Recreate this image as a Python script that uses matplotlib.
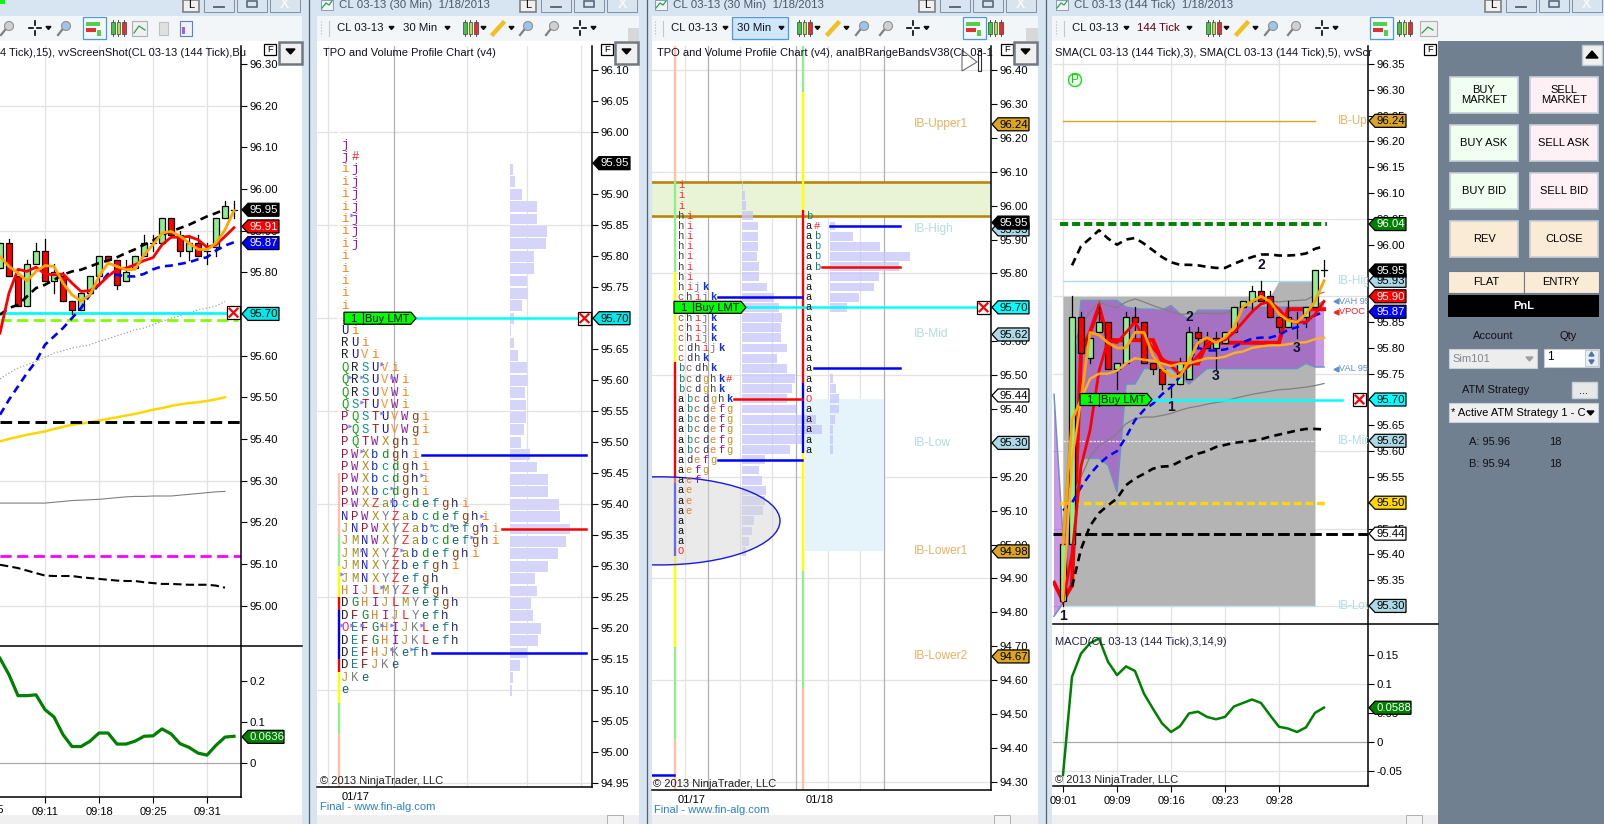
import matplotlib
matplotlib.use('Agg')
import matplotlib.pyplot as plt
from matplotlib.patches import Rectangle, Polygon, Ellipse, Circle

W, H = 1604, 824
plt.rcParams['font.family'] = ['Liberation Sans', 'DejaVu Sans']

# ---- left chart (CL 03-13 144 tick, cut off at the window edge)
p1_open = [95.81, 95.87, 95.79, 95.72, 95.82, 95.85, 95.78, 95.79, 95.73, 95.71, 95.75, 95.79, 95.84, 95.83, 95.78, 95.81, 95.84, 95.87, 95.87, 95.93, 95.89, 95.85, 95.87, 95.85, 95.86, 95.93, 95.95]
p1_close = [95.87, 95.79, 95.72, 95.82, 95.85, 95.78, 95.80, 95.73, 95.71, 95.75, 95.79, 95.84, 95.83, 95.77, 95.80, 95.84, 95.87, 95.87, 95.93, 95.89, 95.85, 95.87, 95.84, 95.85, 95.93, 95.96, 95.95]
p1_high = [95.87, 95.88, 95.79, 95.83, 95.87, 95.88, 95.82, 95.80, 95.73, 95.75, 95.79, 95.84, 95.84, 95.83, 95.83, 95.84, 95.89, 95.89, 95.93, 95.93, 95.90, 95.89, 95.89, 95.87, 95.93, 95.97, 95.97]
p1_low = [95.81, 95.79, 95.72, 95.72, 95.82, 95.78, 95.75, 95.73, 95.70, 95.71, 95.75, 95.77, 95.83, 95.76, 95.78, 95.81, 95.84, 95.85, 95.87, 95.89, 95.84, 95.83, 95.84, 95.82, 95.84, 95.93, 95.93]
p1_orange = [95.838, 95.814, 95.798, 95.779, 95.802, 95.816, 95.814, 95.774, 95.746, 95.731, 95.746, 95.79, 95.822, 95.814, 95.806, 95.807, 95.842, 95.866, 95.894, 95.898, 95.887, 95.87, 95.855, 95.854, 95.87, 95.902, 95.948]
p1_red = [95.654, 95.75, 95.807, 95.802, 95.812, 95.796, 95.794, 95.796, 95.774, 95.754, 95.756, 95.77, 95.79, 95.807, 95.81, 95.818, 95.828, 95.835, 95.866, 95.884, 95.884, 95.886, 95.878, 95.86, 95.866, 95.886, 95.907]
p1_blue = [95.458, 95.494, 95.526, 95.558, 95.586, 95.626, 95.646, 95.666, 95.69, 95.714, 95.746, 95.77, 95.796, 95.794, 95.79, 95.79, 95.796, 95.807, 95.814, 95.816, 95.82, 95.824, 95.831, 95.836, 95.852, 95.864, 95.872]
p1_upper = [95.698, 95.714, 95.722, 95.742, 95.762, 95.77, 95.782, 95.794, 95.802, 95.806, 95.814, 95.822, 95.828, 95.836, 95.846, 95.855, 95.866, 95.876, 95.89, 95.898, 95.906, 95.914, 95.924, 95.934, 95.942, 95.951]
p1_dotted = [95.544, 95.558, 95.57, 95.578, 95.586, 95.596, 95.606, 95.612, 95.618, 95.622, 95.626, 95.634, 95.64, 95.648, 95.654, 95.662, 95.666, 95.674, 95.682, 95.69, 95.695, 95.702, 95.71, 95.714, 95.719, 95.73]
p1_gold = [95.394, 95.40, 95.405, 95.41, 95.414, 95.418, 95.424, 95.429, 95.434, 95.437, 95.44, 95.444, 95.448, 95.452, 95.456, 95.46, 95.465, 95.47, 95.474, 95.479, 95.483, 95.486, 95.488, 95.491, 95.495, 95.50]
p1_gray = [95.246, 95.246, 95.246, 95.246, 95.246, 95.246, 95.248, 95.25, 95.252, 95.253, 95.254, 95.255, 95.257, 95.259, 95.261, 95.262, 95.262, 95.263, 95.263, 95.263, 95.265, 95.267, 95.269, 95.271, 95.273, 95.274]
p1_lower = [95.098, 95.094, 95.09, 95.084, 95.078, 95.072, 95.071, 95.071, 95.071, 95.068, 95.066, 95.064, 95.062, 95.06, 95.059, 95.059, 95.056, 95.054, 95.052, 95.052, 95.051, 95.05, 95.05, 95.05, 95.048, 95.043]
p1_macd = [.255, .215, .164, .164, .166, .13, .112, .069, .04, .04, .053, .073, .073, .046, .046, .053, .065, .066, .083, .071, .047, .038, .024, .019, .043, .063, .065]
p1_xticks = [5, 11, 17, 23]
p1_xlabels = ['09:11', '09:18', '09:25', '09:31']

# ---- TPO / volume profile, 01/17 session
p2_top_row = 95.98
p2_rows = ['j', 'j#', 'ij', 'ij', 'ij', 'ij', 'ij', 'ij', 'ij', 'i', 'i', 'i', 'i', 'i', 'i', 'Ui', 'RUi', 'RUVi',
           'QRSUVi', 'QRSUVWi', 'QRSUVWi', 'QSTUVWi', 'PQSTUVWgi', 'PQSTUVWgi', 'PQTWXghi', 'PWXbdghi',
           'PWXbcdghi', 'PWXbcdghi', 'PWXbcdghi', 'PWXZabcdefghi', 'NPWXYZabcdefghi', 'JNPWXYZabcdefghi',
           'JMNWXYZabcdefghi', 'JMNXYZabdefghi', 'JMNXYZbefghi', 'JMNXYZefgh', 'HIJLMYZefgh', 'DGHIJLMYefgh',
           'DFGHIJLYefh', 'OEFGHIJKLefh', 'DEFGHIJKLefh', 'DEFHJKefh', 'DEFJKe', 'JKe', 'e']
p2_vol_top = 95.94
p2_vol = [3, 5, 12, 27, 27, 37, 36, 24, 24, 17, 18, 12, 4, 1, 4, 8, 17, 18, 15, 16, 16, 14, 11,
          20, 27, 38, 38, 49, 50, 60, 56, 48, 38, 25, 27, 21, 23, 31, 28, 17, 10, 3, 2]
p2_strip_edges = [96.14, 95.45, 95.35, 95.30, 95.25, 95.23, 95.15, 95.13, 95.08, 95.03, 94.94]
p2_strip_colors = ['white', '#ffc0a8', '#90ee90', '#ffff00', '#ff0000', '#0000ff', '#ff0000', '#ffff00', '#90ee90', '#ffc0a8']
p2_flag_x = [352, 382, 350, 362, 392, 362, 382, 350, 362, 422, 392, 392, 482, 482, 432, 452, 472, 362, 402, 342, 382, 342, 352, 362, 382, 392, 422, 392, 412]
p2_flag_y = [95.866, 95.626, 95.605, 95.605, 95.605, 95.565, 95.547, 95.526, 95.486, 95.447, 95.426, 95.405, 95.381, 95.366, 95.366, 95.366, 95.347, 95.326, 95.326, 95.287, 95.266, 95.206, 95.206, 95.206, 95.206, 95.206, 95.206, 95.166, 95.166]

# ---- TPO / volume profile, 01/17 and 01/18 sessions
p3_top_row = 96.06
p3_rows = ['i', 'i', 'i', 'hi', 'hi', 'hi', 'hi', 'hi', 'hi', 'hi', 'hijk', 'chijk', 'chijk', 'chijk', 'chijk', 'chijk',
           'cdhijk', 'cdhk', 'bcdhk', 'bcdghk#', 'bcdghk', 'abcdghk', 'abcdefg', 'abcdefg', 'abcdefg', 'abcdefg', 'abcdefg',
           'adefg', 'aefg', 'aef', 'ae', 'ae', 'ae', 'a', 'a', 'a', 'O']
p3_vol = [1, 3, 4, 11, 16, 16, 16, 15, 17, 17, 25, 32, 37, 40, 39, 39, 45, 35, 45, 53, 50, 45, 54, 74, 80, 60, 48, 23, 17, 20, 24, 23, 21, 12, 10, 7, 4]
p3b_top_row = 95.97
p3b_rows = ['b', 'a#', 'ab', 'ab', 'ab', 'ab', 'a', 'a', 'a', 'a', 'a', 'a', 'a', 'a', 'a', 'a', 'a', 'a', 'O', 'a', 'a', 'a', 'a', 'a']
p3b_vol_prices = [95.94, 95.91, 95.88, 95.85, 95.82, 95.79, 95.76, 95.73, 95.70, 95.49, 95.46, 95.43, 95.40, 95.37, 95.34, 95.31, 95.28]
p3b_vol = [5, 23, 50, 80, 69, 49, 44, 29, 17, 3, 6, 9, 9, 5, 3, 3, 3]
p3_strip1_edges = [96.48, 96.075, 95.804, 95.539, 95.182, 94.966, 94.698, 94.427, 94.27]
p3_strip1_colors = ['#ffc0a8', '#90ee90', '#ffff00', '#ff0000', '#0000ff', '#ffff00', '#90ee90', '#ffc0a8']
p3_strip2_edges = [96.48, 96.335, 95.987, 95.477, 95.27, 94.922, 94.577, 94.27]
p3_strip2_colors = ['#90ee90', '#ffff00', '#ff0000', '#0000ff', '#ffff00', '#90ee90', '#ffc0a8']
ib_names = ['IB-Upper1', 'IB-High', 'IB-Mid', 'IB-Low', 'IB-Lower1', 'IB-Lower2']
ib_prices = [96.24, 95.93, 95.62, 95.30, 94.98, 94.67]

# ---- right chart, 144 tick
p4_open = [95.31, 95.42, 95.86, 95.78, 95.83, 95.85, 95.76, 95.77, 95.86, 95.85, 95.77, 95.76, 95.73, 95.73, 95.74, 95.83, 95.82, 95.80, 95.81, 95.83, 95.88, 95.89, 95.91, 95.90, 95.86, 95.84, 95.85, 95.86, 95.88, 95.95]
p4_close = [95.42, 95.86, 95.79, 95.82, 95.85, 95.76, 95.77, 95.86, 95.85, 95.77, 95.76, 95.73, 95.73, 95.77, 95.83, 95.82, 95.80, 95.82, 95.83, 95.88, 95.89, 95.91, 95.89, 95.86, 95.84, 95.86, 95.85, 95.88, 95.95, 95.95]
p4_high = [95.42, 95.90, 95.87, 95.82, 95.88, 95.85, 95.77, 95.87, 95.88, 95.85, 95.77, 95.76, 95.73, 95.78, 95.84, 95.84, 95.83, 95.83, 95.83, 95.88, 95.89, 95.92, 95.93, 95.91, 95.86, 95.89, 95.87, 95.88, 95.95, 95.97]
p4_low = [95.30, 95.42, 95.79, 95.77, 95.83, 95.76, 95.72, 95.77, 95.82, 95.77, 95.75, 95.72, 95.705, 95.73, 95.74, 95.80, 95.80, 95.76, 95.81, 95.83, 95.88, 95.87, 95.89, 95.86, 95.83, 95.84, 95.82, 95.84, 95.88, 95.94]
p4_orange = [95.42, 95.66, 95.70, 95.83, 95.825, 95.81, 95.80, 95.80, 95.83, 95.83, 95.785, 95.76, 95.745, 95.745, 95.775, 95.81, 95.82, 95.81, 95.82, 95.84, 95.88, 95.89, 95.90, 95.89, 95.866, 95.853, 95.85, 95.866, 95.89, 95.93]
p4_gold = [95.31, 95.58, 95.70, 95.74, 95.75, 95.75, 95.756, 95.77, 95.78, 95.777, 95.775, 95.77, 95.765, 95.77, 95.77, 95.775, 95.78, 95.78, 95.783, 95.79, 95.793, 95.80, 95.803, 95.805, 95.805, 95.807, 95.81, 95.811, 95.817, 95.82]
p4_red = [95.31, 95.40, 95.57, 95.64, 95.755, 95.815, 95.81, 95.83, 95.85, 95.82, 95.80, 95.78, 95.765, 95.75, 95.765, 95.785, 95.805, 95.815, 95.815, 95.83, 95.85, 95.87, 95.885, 95.89, 95.875, 95.855, 95.85, 95.85, 95.865, 95.89]
p4_vpoc = [95.345, 95.31, 95.34, 95.79, 95.83, 95.88, 95.815, 95.815, 95.815, 95.815, 95.815, 95.815, 95.775, 95.77, 95.77, 95.77, 95.77, 95.81, 95.81, 95.81, 95.81, 95.81, 95.81, 95.81, 95.81, 95.81, 95.875, 95.875, 95.875, 95.875, 95.875]
p4_blue = [95.485, 95.50, 95.53, 95.555, 95.575, 95.59, 95.60, 95.627, 95.66, 95.68, 95.692, 95.71, 95.724, 95.744, 95.775, 95.80, 95.795, 95.795, 95.797, 95.802, 95.811, 95.818, 95.82, 95.82, 95.825, 95.835, 95.84, 95.85, 95.863, 95.87]
p4_lower = [95.337, 95.41, 95.455, 95.48, 95.495, 95.508, 95.534, 95.547, 95.556, 95.566, 95.57, 95.571, 95.58, 95.588, 95.595, 95.60, 95.608, 95.612, 95.616, 95.618, 95.62, 95.623, 95.628, 95.632, 95.636, 95.64, 95.643, 95.643, 95.642]
p4_upper = [95.96, 95.997, 96.012, 96.028, 96.012, 96.0, 96.01, 96.013, 96.002, 95.989, 95.976, 95.966, 95.961, 95.961, 95.96, 95.957, 95.955, 95.955, 95.963, 95.97, 95.976, 95.981, 95.981, 95.979, 95.979, 95.98, 95.983, 95.992, 95.997]
p4_gray_up = [95.80, 95.84, 95.87, 95.889, 95.882, 95.878, 95.889, 95.895, 95.889, 95.882, 95.876, 95.87, 95.865, 95.866, 95.867, 95.867, 95.866, 95.867, 95.874, 95.882, 95.889, 95.892, 95.891, 95.889, 95.891, 95.892, 95.893, 95.902, 95.908]
p4_gray_lo = [95.51, 95.55, 95.589, 95.611, 95.621, 95.634, 95.653, 95.663, 95.666, 95.666, 95.669, 95.673, 95.679, 95.684, 95.687, 95.691, 95.694, 95.697, 95.702, 95.706, 95.71, 95.713, 95.716, 95.719, 95.72, 95.722, 95.724, 95.727, 95.731]
p4_vah = [95.71, 95.434, 95.69, 95.892, 95.892, 95.892, 95.892, 95.892, 95.879, 95.876, 95.875, 95.875, 95.873, 95.882, 95.866, 95.856, 95.873, 95.873, 95.873, 95.873, 95.873, 95.879, 95.879, 95.879, 95.879, 95.879, 95.879, 95.879, 95.879, 95.879, 95.892]
p4_val = [95.28, 95.305, 95.337, 95.586, 95.586, 95.586, 95.573, 95.521, 95.73, 95.73, 95.76, 95.76, 95.76, 95.76, 95.745, 95.73, 95.745, 95.76, 95.76, 95.76, 95.76, 95.76, 95.76, 95.76, 95.76, 95.76, 95.76, 95.76, 95.77, 95.763, 95.763]
p4_macd = [-.057, .112, .152, .17, .178, .138, .115, .13, .122, .083, .057, .032, .017, .027, .049, .052, .043, .039, .043, .061, .067, .073, .067, .046, .026, .023, .017, .025, .05, .059]
p4_xticks = [0, 6, 12, 18, 24]
p4_xlabels = ['09:01', '09:09', '09:16', '09:23', '09:28']
p4_swings = [(0, 95.28, '1'), (12, 95.685, '1'), (14, 95.86, '2'), (17, 95.745, '3'), (22, 95.96, '2'), (26, 95.80, '3')]

GRID = '#e2e2e2'
DARKGRID = '#b0b0b0'
GREEN_UP = '#90ee90'

fig = plt.figure(figsize=(W / 100, H / 100), dpi=100, facecolor='#d7e4f1')

def px_axes(x0, y0, x1, y1, z=1):
    return fig.add_axes([x0 / W, 1 - y1 / H, (x1 - x0) / W, (y1 - y0) / H], zorder=z)

bg = px_axes(0, 0, W, H, 0)
bg.set_xlim(0, W); bg.set_ylim(H, 0); bg.axis('off')
ov = px_axes(0, 0, W, H, 10)
ov.set_xlim(0, W); ov.set_ylim(H, 0); ov.axis('off'); ov.patch.set_alpha(0)

def rect(a, x0, y0, x1, y1, fc, ec='none', lw=0.8, z=1):
    a.add_patch(Rectangle((x0, y0), x1 - x0, y1 - y0, facecolor=fc, edgecolor=ec, linewidth=lw, zorder=z))

def chart_axes(x0, y0, x1, y1, ytop, ybottom, yticks, fmt, xlim=None, bottom=True):
    ax = px_axes(x0, y0, x1, y1)
    ax.set_xlim(*(xlim if xlim else (x0, x1)))
    ax.set_ylim(ybottom, ytop)
    ax.yaxis.tick_right()
    ax.set_yticks(yticks)
    ax.set_yticklabels([fmt(t) for t in yticks])
    ax.tick_params(axis='y', length=4, width=0.8, pad=2, labelsize=8.2, colors='black')
    ax.set_xticks([])
    for s in ['top', 'left']:
        ax.spines[s].set_visible(False)
    ax.spines['bottom'].set_visible(bottom)
    for s in ['right', 'bottom']:
        ax.spines[s].set_linewidth(1.1)
    return ax

def grid_h(ax, vals, color=GRID):
    for v in vals:
        ax.axhline(v, color=color, lw=0.9, zorder=0.5)

def grid_v(ax, vals, color=GRID):
    for v in vals:
        ax.axvline(v, color=color, lw=0.9, zorder=0.5)

def frange(a, b, step):
    n = int(round((b - a) / step))
    return [round(a + i * step, 2) for i in range(n + 1)]

def tag(ax, price, txt, fc, fg='black', x1=None):
    x0 = ax.get_position().x1 * W + 1
    y = H - ax.transData.transform((0, price))[1]
    x1 = x1 if x1 else x0 + 37
    ov.add_patch(Polygon([(x0, y), (x0 + 6, y - 6.5), (x1, y - 6.5), (x1, y + 6.5), (x0 + 6, y + 6.5)],
                         closed=True, facecolor=fc, edgecolor='black', linewidth=0.9, zorder=5))
    ov.text(x0 + 7.5, y + 0.3, txt, color=fg, fontsize=8.2, va='center', ha='left', zorder=6)

def buy_tag(ax, price, x0):
    y = H - ax.transData.transform((0, price))[1]
    ov.add_patch(Polygon([(x0, y - 6), (x0 + 67, y - 6), (x0 + 72, y), (x0 + 67, y + 6), (x0, y + 6)],
                         closed=True, facecolor='#00ff00', edgecolor='black', linewidth=0.9, zorder=5))
    ov.plot([x0 + 19, x0 + 19], [y - 6, y + 6], color='black', lw=0.8, zorder=6)
    ov.text(x0 + 9.5, y + 0.3, '1', fontsize=8, ha='center', va='center', zorder=6)
    ov.text(x0 + 21, y + 0.3, 'Buy LMT', fontsize=8, ha='left', va='center', zorder=6)

def x_box(ax, price, x0):
    y = H - ax.transData.transform((0, price))[1]
    rect(ov, x0, y - 6.5, x0 + 13, y + 6.5, 'white', 'black', 0.9, 5)
    ov.plot([x0 + 2.5, x0 + 10.5], [y - 4, y + 4], color='#ff0000', lw=1.6, zorder=6)
    ov.plot([x0 + 2.5, x0 + 10.5], [y + 4, y - 4], color='#ff0000', lw=1.6, zorder=6)

def candles(ax, o, c, hi, lo, width=0.68):
    for i in range(len(o)):
        ax.plot([i, i], [lo[i], hi[i]], color='black', lw=0.9, zorder=3)
        if abs(c[i] - o[i]) < 0.001:
            ax.plot([i - 0.35, i + 0.35], [c[i], c[i]], color='black', lw=0.9, zorder=3)
        else:
            col = GREEN_UP if c[i] > o[i] else '#ff0000'
            ax.bar(i, abs(c[i] - o[i]), bottom=min(o[i], c[i]), width=width, color=col, edgecolor='black', linewidth=0.9, zorder=3)

def strip(ax, x, edges, colors):
    for k, col in enumerate(colors):
        ax.plot([x, x], [edges[k], edges[k + 1]], color=col, lw=1.7, zorder=1.5, solid_capstyle='butt')

def tpo(ax, rows, top, step, x0, dx, colors, size, bold=''):
    for r, row in enumerate(rows):
        for c, ch in enumerate(row):
            ax.text(x0 + c * dx, top - r * step, ch, family=['Liberation Mono', 'DejaVu Sans Mono'], fontsize=size,
                    color=colors.get(ch, 'black'), ha='center', va='center', zorder=4, weight='bold' if ch in bold else 'normal')

def f2(t):
    return '%.2f' % t

def fz(t):
    return '0' if t == 0 else ('%g' % t)

# ---------------- window chrome
for x0, x1 in [(0, 302), (317, 639), (652, 1038), (1052, 1438)]:
    rect(bg, x0, 41, x1, 815, 'white')
    rect(bg, x0, 16, x1, 41, '#f3f6f9')
    rect(bg, x0, 815, x1, H, '#f0f0f0')
for x in [309, 647, 1046]:
    bg.plot([x, x], [0, H], color='#56606a', lw=0.9)
rect(bg, 0, 0, 5, 4, '#00ff00', z=3)
rect(bg, 1438, 41, W, H, '#708090')
rect(bg, 1438, 0, W, 16, '#d7e4f1')
rect(bg, 1438, 16, W, 41, '#f3f6f9')
for x in [607, 994, 1406]:
    rect(ov, x, 815, x + 16, H, '#f4f4f4', '#b0b0b0', 0.7)

def win_buttons(right):
    rect(ov, right - 119, 0, right - 103, 12, '#f0f0f0', '#808080', 1.2)
    ov.text(right - 111, 5, 'L', fontsize=8, ha='center', va='center')
    for off in (98, 65, 32):
        rect(ov, right - off, -3, right - off + 30, 12, '#d8e4f0', '#8090a0', 0.7)
    ov.plot([right - 88, right - 78], [7, 7], color='#506070', lw=1.3)
    rect(ov, right - 55, 1, right - 45, 7, 'none', '#506070', 1.1)
    ov.text(right - 17, 4, 'X', fontsize=10, color='#f8f8f8', ha='center', va='center', weight='bold')

win_buttons(302)
win_buttons(639)
win_buttons(1038)
win_buttons(1604)

def candle_icon(x):
    ov.plot([x + 1.7, x + 1.7], [20, 36], color='#303030', lw=0.6)
    ov.plot([x + 7.2, x + 7.2], [20, 36], color='#303030', lw=0.6)
    ov.plot([x + 12.7, x + 12.7], [20, 36], color='#303030', lw=0.6)
    for k, col in enumerate(['#40c840', '#a8e840', '#e03030']):
        rect(ov, x + k * 5.5, 22, x + k * 5.5 + 3.5, 34, col, '#404040', 0.5, 3)

def small_arrow(x, y=28):
    ov.add_patch(Polygon([(x, y - 1.5), (x + 5, y - 1.5), (x + 2.5, y + 1.5)], color='#101010'))

def cross_icon(x):
    ov.plot([x - 6, x - 2], [28, 28], color='k', lw=1.2)
    ov.plot([x + 2, x + 6], [28, 28], color='k', lw=1.2)
    ov.plot([x, x], [21, 25], color='k', lw=1.2)
    ov.plot([x, x], [31, 35], color='k', lw=1.2)
    small_arrow(x + 11)

def glass_icon(x, col='#a0c4e8'):
    ov.add_patch(Circle((x + 2, 26), 4.5, facecolor=col, edgecolor='#909090', lw=0.8))
    ov.plot([x - 2, x - 6], [30, 35], color='#808080', lw=1.6)

def pencil_icon(x):
    ov.plot([x - 5, x + 5], [34, 23], color='#f0c020', lw=3.2)
    small_arrow(x + 11)

def view_box(x, active=False):
    if active:
        rect(ov, x, 17, x + 23, 39, '#f4f8fc', '#4a9ae8', 0.9)
    rect(ov, x + 3, 22, x + 17, 26, '#50d050', z=2)
    rect(ov, x + 3, 28, x + 13, 32, '#e03030', z=2)
    rect(ov, x + 14, 30, x + 18, 36, '#50d050', z=2)

def title_icon(x):
    rect(ov, x, 0, x + 12, 10, '#f0f4f8', '#8090a0', 0.6)
    ov.plot([x + 1, x + 5, x + 8, x + 11], [8, 3, 5, 1], color='#30a050', lw=0.9)

def toolbar(x0, sym_x, per_x, per_txt, per_color='#101020'):
    ov.plot([x0, x0], [21, 36], color='#b0b8c0', lw=0.8, ls=':')
    ov.plot([x0 + 8, x0 + 8], [21, 36], color='#c0c8d0', lw=0.8)
    ov.text(sym_x, 27.5, 'CL 03-13', fontsize=8.2, va='center', color='#101020')
    small_arrow(sym_x + 52)
    ov.text(per_x, 27.5, per_txt, fontsize=8.2, va='center', color=per_color)

# toolbars: symbol text, period text, icons
toolbar(321, 337, 403, '30 Min')
small_arrow(445)
candle_icon(463); small_arrow(481); pencil_icon(498); glass_icon(526); glass_icon(552, '#d0d0d0'); cross_icon(580)
rect(ov, 628, 28, 639, 41, '#d8d8d8')
rect(bg, 732, 17, 788, 39, '#cfe6fb', '#4a9ae8', 0.9, 3)
toolbar(655, 671, 737, '30 Min')
small_arrow(779)
candle_icon(797); small_arrow(815); pencil_icon(833); glass_icon(862); glass_icon(886, '#d0d0d0'); cross_icon(913)
view_box(963, True); candle_icon(988)
rect(ov, 1026, 28, 1038, 41, '#d8d8d8')
toolbar(1056, 1072, 1137, '144 Tick', '#600010')
small_arrow(1187)
candle_icon(1206); small_arrow(1224); pencil_icon(1242); glass_icon(1271); glass_icon(1294, '#d0d0d0'); cross_icon(1322)
view_box(1370, True); candle_icon(1397)
rect(ov, 1420, 21, 1437, 36, '#f0f0f0', '#b0b0b0')
ov.plot([1422, 1428, 1433], [33, 27, 30], color='#30a050', lw=0.9)
glass_icon(7, '#d0d0d0'); cross_icon(35); glass_icon(64); view_box(83, True); candle_icon(111)
rect(ov, 132, 21, 147, 36, '#f0f0f0', '#b0b0b0')
ov.plot([134, 139, 145], [33, 26, 30], color='#30a050', lw=0.9)
rect(ov, 159, 22, 168, 35, '#e0e0e0', '#c0c0c0')
rect(ov, 180, 21, 192, 36, '#eef2ff', '#6080c0')
rect(ov, 182, 27, 185, 34, '#a060e0')

title_icon(321); title_icon(655); title_icon(1056)
ov.text(339, 5, 'CL 03-13 (30 Min)  1/18/2013', fontsize=8.25, color='#4a5868', va='center')
ov.text(673, 5, 'CL 03-13 (30 Min)  1/18/2013', fontsize=8.25, color='#4a5868', va='center')
ov.text(1074, 5, 'CL 03-13 (144 Tick)  1/18/2013', fontsize=8.25, color='#4a5868', va='center')

# F buttons and dropdown arrows
for xf, xd in [(264, 279), (601, 615), (1001, 1014)]:
    rect(ov, xf, 44, xf + 12, 55, 'white', 'black', 0.9)
    ov.text(xf + 6, 49.7, 'F', fontsize=6.8, ha='center', va='center')
    rect(ov, xd, 42, xd + 23, 64, '#f0f0f0', '#707880', 1.8)
    ov.add_patch(Polygon([(xd + 7, 49), (xd + 16, 49), (xd + 11.5, 54)], color='black'))
rect(ov, 1424, 44, 1436, 55, 'white', 'black', 0.9)
ov.text(1430, 49.7, 'F', fontsize=6.8, ha='center', va='center')

# ---------------- chart 1
ax1 = chart_axes(0, 46, 241, 646, 96.343, 94.903, frange(95.0, 96.3, 0.1), f2, xlim=(0, 241 / 9), bottom=False)
grid_h(ax1, [96.2, 95.9, 95.6, 95.3, 95.0])
grid_v(ax1, p1_xticks)
bars1 = list(range(27))
ax1.plot(bars1[:26], p1_gray, color='#808080', lw=0.8, zorder=2)
ax1.plot(bars1[:26], p1_dotted, color='#a0a0a0', lw=0.9, ls=':', zorder=2)
ax1.plot(bars1[:26], p1_gold, color='#ffd700', lw=1.8, zorder=2)
ax1.plot(bars1[:26], p1_lower, color='black', lw=1.5, ls=(0, (4, 2)), zorder=2)
ax1.axhline(95.44, color='black', lw=2.1, ls=(0, (4, 2)), zorder=2)
ax1.axhline(95.12, color='#ff00ff', lw=2, ls=(0, (4, 2)), zorder=2)
ax1.plot([0, 26.4], [95.685, 95.685], color='#7fff00', lw=2, ls=(0, (4, 2)), zorder=2)
ax1.plot([0, 25.1], [95.703, 95.703], color='#00ffff', lw=2, zorder=2.5)
candles(ax1, p1_open, p1_close, p1_high, p1_low)
ax1.plot(bars1[:26], p1_upper, color='black', lw=1.9, ls=(0, (3, 2)), zorder=3.2)
ax1.plot(bars1, p1_blue, color='#0000ff', lw=1.9, ls=(0, (3, 2)), zorder=3.3)
ax1.plot(bars1, p1_red, color='#ff0000', lw=2, zorder=3.5)
ax1.plot(bars1, p1_orange, color='#ffa500', lw=2, zorder=3.6)
ov.text(0, 53, '4 Tick),15), vvScreenShot(CL 03-13 (144 Tick),Bu', fontsize=8, color='#101020', va='center')
tag(ax1, 95.95, '95.95', 'black', 'white')
tag(ax1, 95.91, '95.91', '#ff0000', 'white')
tag(ax1, 95.87, '95.87', '#0000ff', 'white')
tag(ax1, 95.70, '95.70', '#00e8e8')
x_box(ax1, 95.703, 227)

ax1b = chart_axes(0, 646, 241, 797, 0.285, -0.083, [0, 0.1, 0.2], fz, xlim=(0, 241 / 9))
grid_v(ax1b, p1_xticks)
ax1b.axhline(0, color='#a8a8a8', lw=0.9, zorder=0.6)
ax1b.plot(bars1, p1_macd, color='#008000', lw=2.3)
ax1b.set_xticks(p1_xticks)
ax1b.set_xticklabels(p1_xlabels, fontsize=8)
ax1b.tick_params(axis='x', length=4, width=0.8, pad=3)
ov.text(-10, 810, '09:05', fontsize=8, ha='center', va='center')
tag(ax1b, 0.0636, '0.0636', '#008000', 'white', x1=284)
ov.plot([0, 302], [646, 646], color='black', lw=1.1)

# ---------------- chart 2
tpo2_colors = {'j': '#a0109a', 'i': '#ff7a10', '#': '#ff2020', 'U': '#20109a', 'R': '#202020', 'V': '#ff9030', 'Q': '#10a010',
               'S': '#109090', 'W': '#8a20a0', 'T': '#a01010', 'P': '#a01040', 'g': '#8a4010', 'X': '#b88a10', 'h': '#202070',
               'b': '#1030e0', 'd': '#109010', 'c': '#109080', 'Z': '#ff2020', 'a': '#909020', 'e': '#106060', 'f': '#108080',
               'N': '#2020e0', 'Y': '#708090', 'J': '#c09030', 'M': '#a09020', 'H': '#e08020', 'I': '#901090', 'L': '#ff1010',
               'D': '#202020', 'G': '#108030', 'F': '#801010', 'E': '#108080', 'K': '#808080', 'O': '#ff2040'}
ax2 = chart_axes(317, 46, 592, 787, 96.139, 94.944, frange(94.95, 96.10, 0.05), f2)
grid_h(ax2, [96.0, 95.85, 95.70, 95.55, 95.40, 95.25, 95.10, 94.95])
grid_v(ax2, [328, 467, 527, 581])
grid_v(ax2, [394], DARKGRID)
strip(ax2, 339, p2_strip_edges, p2_strip_colors)
ax2.barh([p2_vol_top - k * 0.02 for k in range(len(p2_vol))], p2_vol, height=0.0175, left=510, color='#d5d5fa', zorder=1.2)
tpo(ax2, p2_rows, p2_top_row, 0.02, 345, 10, tpo2_colors, 8.8)
ax2.plot(p2_flag_x, p2_flag_y, ls='none', marker='>', ms=3, color='#8080f0', mew=0, zorder=4.5)
ax2.plot([422, 586], [95.48, 95.48], color='#0000ff', lw=1.8, zorder=3)
ax2.plot([502, 586], [95.36, 95.36], color='#ff0000', lw=1.8, zorder=3)
ax2.plot([432, 586], [95.16, 95.16], color='#0000ff', lw=1.8, zorder=3)
ax2.plot([416, 578], [95.70, 95.70], color='#00ffff', lw=1.8, zorder=3)
buy_tag(ax2, 95.70, 344)
x_box(ax2, 95.70, 578)
tag(ax2, 95.95, '95.95', 'black', 'white')
tag(ax2, 95.70, '95.70', '#00e8e8')
ov.text(323, 53, 'TPO and Volume Profile Chart (v4)', fontsize=8, color='#101020', va='center')
ov.text(320, 781, '© 2013 NinjaTrader, LLC', fontsize=8, color='#202020', va='center')
ov.text(342, 797, '01/17', fontsize=8, va='center')
ov.text(320, 807, 'Final - www.fin-alg.com', fontsize=8, color='#2a80c8', va='center')

# ---------------- chart 3
tpo3_colors = {'a': '#101010', 'b': '#108080', 'c': '#a05030', 'd': '#303060', 'e': '#e08030', 'f': '#901090', 'g': '#c09020',
               'h': '#404040', 'i': '#ff2020', 'j': '#707070', 'k': '#1030e0', 'O': '#ff2020', '#': '#ff2020'}
ax3 = chart_axes(652, 46, 991, 790, 96.471, 94.276, frange(94.30, 96.40, 0.1), f2)
grid_h(ax3, [96.40, 96.10, 95.80, 95.50, 95.20, 94.90, 94.60, 94.30])
grid_v(ax3, [685, 740, 772, 828, 860])
grid_v(ax3, [708, 796, 884], DARKGRID)
ax3.add_patch(Rectangle((652, 95.97), 339, 0.10, facecolor='#e9f3d6', zorder=0.8))
ax3.add_patch(Rectangle((805, 94.98), 79, 0.45, facecolor='#e4f4fa', zorder=0.8))
for lv in (96.07, 95.97):
    ax3.axhline(lv, color='#b8860b', lw=1.9, zorder=1)
strip(ax3, 675, p3_strip1_edges, p3_strip1_colors)
strip(ax3, 803, p3_strip2_edges, p3_strip2_colors)
ax3.barh([p3_top_row - k * 0.03 for k in range(len(p3_vol))], p3_vol, height=0.026, left=742, color='#c8c8fa', alpha=0.8, zorder=1.2)
ax3.barh(p3b_vol_prices, p3b_vol, height=0.026, left=830, color='#c8c8fa', alpha=0.8, zorder=1.2)
ax3.add_patch(Ellipse((660, 95.07), 240, 0.26, facecolor=(0.84, 0.84, 0.84, 0.5), edgecolor='#1818e0', linewidth=1, zorder=2))
tpo(ax3, p3_rows, p3_top_row, 0.03, 681, 8, tpo3_colors, 7.6, 'k')
tpo(ax3, p3b_rows, p3b_top_row, 0.03, 809, 8, tpo3_colors, 7.6)
ax3.plot([718, 802], [95.73, 95.73], color='#0000ff', lw=1.8, zorder=3)
ax3.plot([734, 802], [95.43, 95.43], color='#ff0000', lw=1.8, zorder=3)
ax3.plot([718, 802], [95.25, 95.25], color='#0000ff', lw=1.8, zorder=3)
ax3.plot([830, 900], [95.94, 95.94], color='#0000ff', lw=1.8, zorder=3)
ax3.plot([822, 900], [95.82, 95.82], color='#ff0000', lw=1.8, zorder=3)
ax3.plot([814, 900], [95.52, 95.52], color='#0000ff', lw=1.8, zorder=3)
ax3.plot([652, 674], [94.32, 94.32], color='#0000ff', lw=1.8, zorder=3)
ax3.plot([746, 977], [95.70, 95.70], color='#00ffff', lw=1.8, zorder=3)
buy_tag(ax3, 95.70, 674)
x_box(ax3, 95.70, 977)
ib_text = ['#e8b060', '#b0dde0', '#b0dde0', '#b0dde0', '#e8b060', '#e8b060']
for name, pr, tc in zip(ib_names, ib_prices, ib_text):
    ax3.text(914, pr, name, fontsize=8.6, color=tc, va='center', ha='left', zorder=3)
tag(ax3, 96.24, '96.24', '#daa520')
tag(ax3, 95.93, '95.93', '#add8e6')
tag(ax3, 95.95, '95.95', 'black', 'white')
tag(ax3, 95.70, '95.70', '#00ffff')
tag(ax3, 95.62, '95.62', '#add8e6')
tag(ax3, 95.44, '95.44', 'white')
tag(ax3, 95.30, '95.30', '#add8e6')
tag(ax3, 94.98, '94.98', '#daa520')
tag(ax3, 94.67, '94.67', '#daa520')
ov.text(657, 53, 'TPO and Volume Profile Chart (v4), anaIBRangeBandsV38(CL 03-1', fontsize=8, color='#101020', va='center')
ov.add_patch(Polygon([(962, 50), (977, 62), (962, 71)], closed=True, facecolor='white', edgecolor='#303030', lw=0.8, alpha=0.7))
rect(ov, 978, 50, 981, 71, 'none', '#303030', 0.8)
ov.text(653, 784, '© 2013 NinjaTrader, LLC', fontsize=8, color='#202020', va='center')
ov.text(678, 800, '01/17', fontsize=8, va='center')
ov.text(806, 800, '01/18', fontsize=8, va='center')
ov.text(654, 810, 'Final - www.fin-alg.com', fontsize=8, color='#2a80c8', va='center')

# ---------------- chart 4
xl4 = (-10 / 9, 305 / 9)
ax4 = chart_axes(1053, 46, 1368, 624, 96.385, 95.265, frange(95.30, 96.35, 0.05), f2, xlim=xl4, bottom=False)
grid_h(ax4, [96.35, 96.20, 96.05, 95.90, 95.75, 95.60, 95.45, 95.30])
grid_v(ax4, p4_xticks)
ax4.fill_between([0, 23, 24, 28], [95.30] * 4, [95.90, 95.90, 95.93, 95.93], color='#b4b4b4', zorder=1, lw=0)
bars4 = list(range(30))
bars4b = list(range(-1, 30))
ax4.fill_between(bars4b, p4_val, p4_vah, facecolor='#9a30d0', alpha=0.5, edgecolor='none', zorder=1.5)
ax4.plot(bars4b, p4_vah, color='#7090c8', lw=1.1, zorder=1.6)
ax4.plot(bars4b, p4_val, color='#7090c8', lw=1.1, zorder=1.6)
ax4.plot([0, 28], [96.24, 96.24], color='#daa520', lw=1, zorder=2)
ax4.plot([0, 28], [95.93, 95.93], color='#add8e6', lw=1, zorder=2)
ax4.plot([0, 28], [95.62, 95.62], color='#f0e8f8', lw=0.9, ls=(0, (2, 1)), zorder=2)
ax4.plot([0, 28], [95.30, 95.30], color='#c0e4e8', lw=1, zorder=2)
ax4.plot(bars4b, p4_vpoc, color='#ff0000', lw=2.9, zorder=2.4, solid_joinstyle='miter')
ax4.plot([-0.3, 29.3], [96.04, 96.04], color='#008000', lw=2.8, ls=(0, (2.1, 1)), zorder=2.5)
ax4.plot([-0.3, 29.3], [95.50, 95.50], color='#ffd700', lw=2.4, ls=(0, (2.3, 1.2)), zorder=2.5)
ax4.plot([-1.1, 33.9], [95.44, 95.44], color='black', lw=2.1, ls=(0, (4, 1.5)), zorder=2.5)
ax4.plot(bars4[1:], p4_gray_up, color='#808080', lw=0.9, zorder=2.6)
ax4.plot(bars4[1:], p4_gray_lo, color='#808080', lw=0.9, zorder=2.6)
candles(ax4, p4_open, p4_close, p4_high, p4_low)
ax4.plot(bars4[1:], p4_upper, color='black', lw=1.9, ls=(0, (3, 2)), zorder=3.2)
ax4.plot(bars4[1:], p4_lower, color='black', lw=1.9, ls=(0, (3, 2)), zorder=3.2)
ax4.plot(bars4, p4_blue, color='#0000ff', lw=1.8, ls=(0, (3, 2)), zorder=3.3)
ax4.plot(bars4, p4_red, color='#ff0000', lw=2, zorder=3.4)
ax4.plot(bars4, p4_gold, color='#ffb020', lw=1.7, zorder=3.5)
ax4.plot(bars4, p4_orange, color='#ffa500', lw=2, zorder=3.6)
ax4.plot([9.5, 31], [95.70, 95.70], color='#00ffff', lw=1.8, zorder=3.7)
buy_tag(ax4, 95.70, 1080)
x_box(ax4, 95.70, 1353)
for b, pr, s in p4_swings:
    ax4.text(b, pr, s, fontsize=10, weight='bold', ha='center', va='center', color='#101030', zorder=4)
ax4.text(30.7, 95.89, 'VAH 95', fontsize=6.6, color='#6090c8', va='center', zorder=4, clip_on=True)
ax4.text(30.7, 95.87, 'VPOC 9', fontsize=6.6, color='#ff2020', va='center', zorder=4, clip_on=True)
ax4.text(30.7, 95.76, 'VAL 95.7', fontsize=6.6, color='#6090c8', va='center', zorder=4, clip_on=True)
for pr, col in [(95.89, '#6090c8'), (95.87, '#ff2020'), (95.76, '#6090c8')]:
    ax4.plot([30.3], [pr], marker='<', ms=3.5, color=col, zorder=4)
ax4.text(30.5, 96.24, 'IB-Up', fontsize=8.4, color='#e8b060', va='center', zorder=3)
ax4.text(30.5, 95.93, 'IB-Hig', fontsize=8.4, color='#b0dde0', va='center', zorder=3, clip_on=True)
ax4.text(30.5, 95.62, 'IB-Mic', fontsize=8.4, color='#b0dde0', va='center', zorder=3, clip_on=True)
ax4.text(30.5, 95.30, 'IB-Lov', fontsize=8.4, color='#b0dde0', va='center', zorder=3, clip_on=True)
ov.add_patch(Circle((1075, 80), 6.5, facecolor='none', edgecolor='#00ee00', lw=1))
ov.text(1075, 80, 'P', fontsize=8.5, color='#00cc00', ha='center', va='center')
ov.text(1055, 53, 'SMA(CL 03-13 (144 Tick),3), SMA(CL 03-13 (144 Tick),5), vvScr', fontsize=8, color='#101020', va='center')
tag(ax4, 96.24, '96.24', '#daa520')
tag(ax4, 96.04, '96.04', '#008000', 'white')
tag(ax4, 95.93, '95.93', '#add8e6')
tag(ax4, 95.95, '95.95', 'black', 'white')
tag(ax4, 95.90, '95.90', '#ff0000', 'white')
tag(ax4, 95.87, '95.87', '#0000ff', 'white')
tag(ax4, 95.70, '95.70', '#00ffff')
tag(ax4, 95.62, '95.62', '#add8e6')
tag(ax4, 95.50, '95.50', '#ffd700')
tag(ax4, 95.44, '95.44', 'white')
tag(ax4, 95.30, '95.30', '#add8e6')

ax4b = chart_axes(1053, 624, 1368, 786, 0.203, -0.076, [-0.05, 0, 0.05, 0.1, 0.15], fz, xlim=xl4)
grid_h(ax4b, [0.1, -0.05])
grid_v(ax4b, p4_xticks)
ax4b.axhline(0, color='#a8a8a8', lw=0.9, zorder=0.6)
ax4b.plot(bars4, p4_macd, color='#008000', lw=1.8)
ax4b.set_xticks(p4_xticks)
ax4b.set_xticklabels(p4_xlabels, fontsize=8)
ax4b.tick_params(axis='x', length=4, width=0.8, pad=3)
tag(ax4b, 0.0588, '0.0588', '#008000', 'white', x1=1411)
ov.text(1055, 642, 'MACD(CL 03-13 (144 Tick),3,14,9)', fontsize=8, color='#202040', va='center')
ov.text(1055, 780, '© 2013 NinjaTrader, LLC', fontsize=8, color='#202020', va='center')
ov.plot([1053, 1438], [624, 624], color='black', lw=1.1)

# ---------------- order panel
btn_left = ['BUY\nMARKET', 'BUY ASK', 'BUY BID', 'REV']
btn_right = ['SELL\nMARKET', 'SELL ASK', 'SELL BID', 'CLOSE']
btn_rows = [(77, 113), (125, 161), (173, 209), (221, 257)]
colors_left = ['#f0fff0', '#f0fff0', '#f0fff0', '#faebd7']
colors_right = ['#fff0f5', '#fff0f5', '#fff0f5', '#faebd7']
for (y0, y1), tl, tr, cl, cr in zip(btn_rows, btn_left, btn_right, colors_left, colors_right):
    rect(ov, 1450, y0, 1518, y1, cl, '#c8d0d8', 1.2)
    rect(ov, 1530, y0, 1598, y1, cr, '#c8d0d8', 1.2)
    ov.text(1484, (y0 + y1) / 2, tl, fontsize=8, ha='center', va='center', linespacing=1.0)
    ov.text(1564, (y0 + y1) / 2, tr, fontsize=8, ha='center', va='center', linespacing=1.0)
rect(ov, 1582, 45, 1602, 65, '#f0f0f0', '#c0c8d0', 1)
ov.add_patch(Polygon([(1586, 58), (1598, 58), (1592, 51)], color='black'))
rect(ov, 1448, 271, 1524, 293, '#faebd7', '#707880', 0.8)
rect(ov, 1524, 271, 1599, 293, '#faebd7', '#707880', 0.8)
ov.text(1486, 282, 'FLAT', fontsize=8, ha='center', va='center')
ov.text(1561, 282, 'ENTRY', fontsize=8, ha='center', va='center')
rect(ov, 1448, 295, 1599, 317, 'black')
ov.text(1524, 306, 'PnL', fontsize=8, ha='center', va='center', color='white', weight='bold')
ov.text(1493, 336, 'Account', fontsize=8, ha='center', va='center', color='#101018')
ov.text(1568, 336, 'Qty', fontsize=8, ha='center', va='center', color='#101018')
rect(ov, 1449, 349, 1537, 368, '#ededed', '#c8d0d8', 0.8)
ov.text(1452, 358.5, 'Sim101', fontsize=8, va='center', color='#808890')
ov.add_patch(Polygon([(1526, 357), (1533, 357), (1529.5, 361)], color='#a0a0a0'))
rect(ov, 1544, 349, 1599, 367, 'white', '#c8d0d8', 0.8)
ov.text(1547, 357, '1', fontsize=8.5, va='center')
rect(ov, 1585, 350, 1598, 366, '#e8eef4', '#b0b8c0', 0.5)
ov.add_patch(Polygon([(1589, 356), (1594, 356), (1591.5, 352)], color='#5070b0'))
ov.add_patch(Polygon([(1589, 360), (1594, 360), (1591.5, 364)], color='#5070b0'))
ov.text(1462, 390, 'ATM Strategy', fontsize=8, va='center', color='#101018')
rect(ov, 1572, 382, 1597, 398, '#e8e8e8', '#c8d0d8', 1)
ov.text(1584, 391, '...', fontsize=8, ha='center', va='center')
rect(ov, 1449, 403, 1598, 422, '#f0f0f0', '#c8d0d8', 0.8)
ov.text(1451, 413, '* Active ATM Strategy 1 - C', fontsize=8, va='center')
ov.add_patch(Polygon([(1587, 411), (1594, 411), (1590.5, 415)], color='black'))
ov.text(1469, 442, 'A: 95.96', fontsize=8, va='center', color='#101018')
ov.text(1549, 442, '18', fontsize=8, va='center', color='#101018')
ov.text(1469, 464, 'B: 95.94', fontsize=8, va='center', color='#101018')
ov.text(1549, 464, '18', fontsize=8, va='center', color='#101018')

fig.savefig('out.png', dpi=100, facecolor=fig.get_facecolor())
